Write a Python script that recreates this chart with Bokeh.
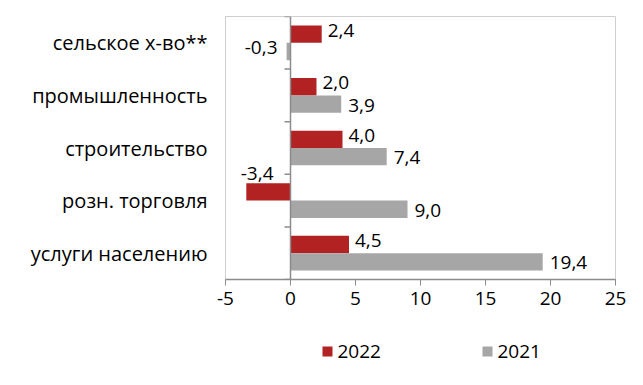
import numpy as np
from bokeh.plotting import figure
from bokeh.layouts import column
from bokeh.models import ColumnDataSource, Range1d, FixedTicker, Span
from bokeh.core.properties import value
from bokeh.embed import file_html
from bokeh.resources import INLINE

categories = ["сельское х-во**", "промышленность", "строительство", "розн. торговля", "услуги населению"]
values_2022 = [2.4, 2.0, 4.0, -3.4, 4.5]
values_2021 = [-0.3, 3.9, 7.4, 9.0, 19.4]
x_ticks = [-5, 0, 5, 10, 15, 20, 25]
series_names = ["2022", "2021"]

FONT = "Open Sans"
RED = "#B22222"
GRAY = "#A6A6A6"
AXIS = "#8c8c8c"
NUM_SIZE = "19px"
CAT_SIZE = "20px"
colors = [RED, GRAY]

n = len(categories)
ypos = np.arange(n)[::-1].astype(float)  # first category on top
bar_h = 0.33
off = bar_h / 2

def fmt(v):
    return f"{v:.1f}".replace(".", ",")

W = 640
FL, FR = 225, 615  # frame left/right in pixels
p = figure(width=W, height=322, output_backend="svg", toolbar_location=None,
           x_range=Range1d(-5, 25), y_range=Range1d(-0.5, n - 0.5),
           min_border_left=FL, min_border_right=W - FR, min_border_top=16, min_border_bottom=43)
p.grid.visible = False
p.outline_line_color = "#cfcfcf"
p.outline_line_width = 1
p.background_fill_color = "white"

s22 = ColumnDataSource(dict(y=ypos + off, v=values_2022))
s21 = ColumnDataSource(dict(y=ypos - off, v=values_2021))

p.hbar(y="y", right="v", left=0, height=bar_h, source=s22, fill_color=RED, line_color=None)
p.hbar(y="y", right="v", left=0, height=bar_h, source=s21, fill_color=GRAY, line_color=None)

# zero line with category separator ticks
p.add_layout(Span(location=0, dimension="height", line_color=AXIS, line_width=1.5))
bounds = np.arange(n + 1) - 0.5
tick_len = 6 * 30 / 390
p.segment(x0=-tick_len, x1=0, y0=bounds, y1=bounds, line_color=AXIS, line_width=1.5)

# value labels
def add_labels(vals, ys, series):
    vals = np.array(vals)
    pos = vals >= 0
    xs = vals[pos]
    p.text(x=xs, y=ys[pos], text=[fmt(v) for v in xs],
           x_offset=6 if series == 22 else 7, y_offset=-4 if series == 22 else 1,
           text_align="left", text_baseline="middle",
           text_font=value(FONT), text_font_size=NUM_SIZE, text_color="black")
    xn = vals[~pos]
    if len(xn):
        p.text(x=np.zeros(len(xn)), y=ys[~pos], text=[fmt(v) for v in xn],
               x_offset=-17 if series == 22 else -13, y_offset=-18 if series == 22 else -4,
               text_align="right", text_baseline="middle",
               text_font=value(FONT), text_font_size=NUM_SIZE, text_color="black")

add_labels(values_2022, ypos + off, 22)
add_labels(values_2021, ypos - off, 21)

# axes
p.xaxis.ticker = FixedTicker(ticks=x_ticks)
p.xaxis.major_label_overrides = {t: str(t) for t in x_ticks}
p.xaxis.axis_line_color = AXIS
p.xaxis.axis_line_width = 1.5
p.xaxis.major_tick_line_color = AXIS
p.xaxis.major_tick_out = 6
p.xaxis.major_tick_in = 0
p.xaxis.minor_tick_line_color = None
p.xaxis.major_label_text_font = FONT
p.xaxis.major_label_text_font_size = NUM_SIZE
p.xaxis.major_label_text_color = "black"
p.xaxis.major_label_standoff = 6

p.yaxis.ticker = FixedTicker(ticks=list(ypos))
p.yaxis.major_label_overrides = {float(y): c for y, c in zip(ypos, categories)}
p.yaxis.axis_line_color = None
p.yaxis.major_tick_line_color = None
p.yaxis.minor_tick_line_color = None
p.yaxis.major_label_text_font = FONT
p.yaxis.major_label_text_font_size = CAT_SIZE
p.yaxis.major_label_text_color = "black"
p.yaxis.major_label_standoff = 12

# legend strip below (x range in pixels of the strip's frame, aligned with the main frame)
LH = 58
lg = figure(width=W, height=LH, output_backend="svg", toolbar_location=None,
            x_range=Range1d(0, FR - FL), y_range=Range1d(0, LH),
            min_border_left=FL, min_border_right=W - FR, min_border_top=0, min_border_bottom=0,
            outline_line_color=None)
lg.axis.visible = False
lg.grid.visible = False
leg_x0, leg_step, leg_y = 322 - FL, 160, LH - 29
lx = leg_x0 + leg_step * np.arange(len(series_names))
lg.rect(x=lx + 5, y=leg_y, width=10, height=10, fill_color=colors, line_color=None)
lg.text(x=lx + 15, y=leg_y, text=series_names,
        text_align="left", text_baseline="middle",
        text_font=value(FONT), text_font_size=NUM_SIZE, text_color="black")

open("out.html", "w").write(file_html(column(p, lg), INLINE))
